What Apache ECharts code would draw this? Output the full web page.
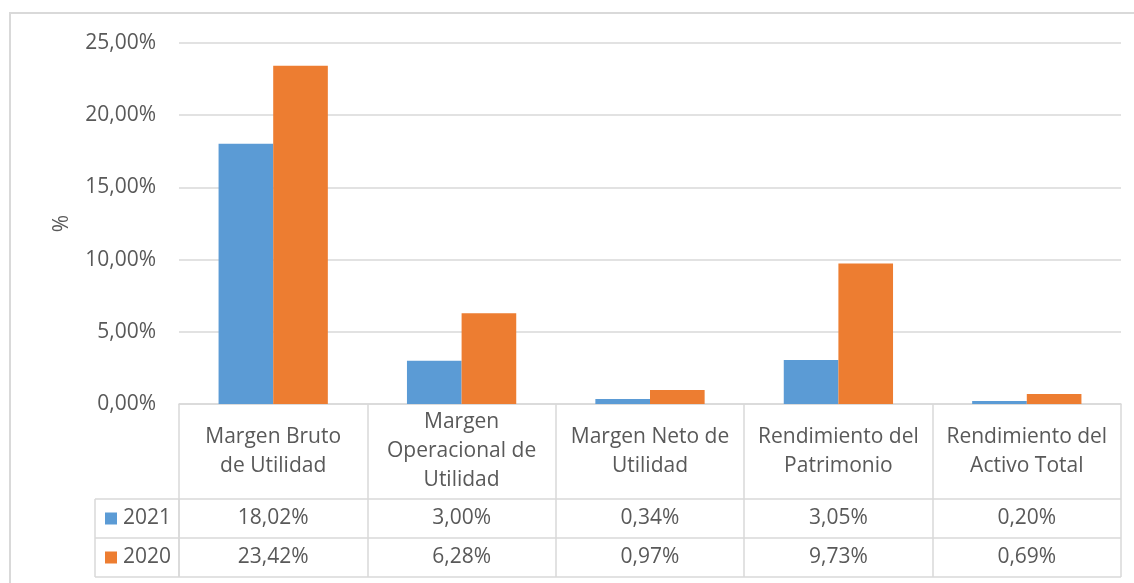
<!DOCTYPE html>
<html>
<head>
<meta charset="utf-8">
<script src="https://cdn.jsdelivr.net/npm/echarts@6/dist/echarts.min.js"></script>
<style>
  html, body { margin: 0; padding: 0; background: #fff; }
  #chart { width: 1134px; height: 583px; }
</style>
</head>
<body>
<div id="chart"></div>
<script>
// datos
const categorias = [
  'Margen Bruto\nde Utilidad',
  'Margen\nOperacional de\nUtilidad',
  'Margen Neto de\nUtilidad',
  'Rendimiento del\nPatrimonio',
  'Rendimiento del\nActivo Total'
];
const serie2021 = [18.02, 3.00, 0.34, 3.05, 0.20];
const serie2020 = [23.42, 6.28, 0.97, 9.73, 0.69];
const nombres = ['2021', '2020'];
const colores = ['#5B9BD5', '#ED7D31'];
const ticksY = [0, 5, 10, 15, 20, 25];

const fmt = v => v.toFixed(2).replace('.', ',') + '%';

const chart = echarts.init(document.getElementById('chart'));

// posicion de la tabla
const gLeft = 179, gRight = 1121, gTop = 43, gBottom = 404;
const tablaLeft = 95;
const filaH = 499, fila1 = 538, fila2 = 577;
const lineColor = '#d9d9d9';
const txtColor = '#595959';
const font = '"Open Sans", sans-serif';
const fs = 21;

const labelBase = {
  color: txtColor,
  fontFamily: font,
  fontSize: fs,
  interval: 0,
  verticalAlign: 'middle',
  align: 'center'
};

const graphic = [
  // marco exterior
  { type: 'rect', shape: { x: 10, y: 13, width: 1140, height: 600 },
    style: { fill: 'none', stroke: lineColor, lineWidth: 2 }, silent: true },
  // lineas horizontales de la tabla
  ...[filaH, fila1, fila2].map(y => ({
    type: 'line', shape: { x1: tablaLeft, y1: y, x2: gRight, y2: y },
    style: { stroke: lineColor, lineWidth: 1.5 }, silent: true
  })),
  { type: 'line', shape: { x1: tablaLeft, y1: filaH, x2: tablaLeft, y2: fila2 },
    style: { stroke: lineColor, lineWidth: 1.5 }, silent: true },
  { type: 'line', shape: { x1: gLeft, y1: filaH, x2: gLeft, y2: fila2 },
    style: { stroke: lineColor, lineWidth: 1.5 }, silent: true }
];
// leyenda en la tabla
nombres.forEach((n, i) => {
  const top = i === 0 ? filaH : fila1;
  const bot = i === 0 ? fila1 : fila2;
  const cy = (top + bot) / 2;
  graphic.push({ type: 'rect', shape: { x: 105, y: cy - 6, width: 12, height: 12 },
    style: { fill: colores[i] }, silent: true });
  graphic.push({ type: 'text', x: 123, y: cy,
    style: { text: n, fill: txtColor, font: fs + 'px ' + font, verticalAlign: 'middle', align: 'left' },
    silent: true });
});

const option = {
  animation: false,
  grid: { left: gLeft, right: 1134 - gRight, top: gTop, bottom: 583 - gBottom },
  xAxis: [
    {
      type: 'category',
      data: categorias,
      axisLine: { show: true, lineStyle: { color: lineColor, width: 1.5 } },
      axisTick: { show: true, length: fila2 - gBottom, lineStyle: { color: lineColor, width: 1.5 } },
      axisLabel: { ...labelBase, margin: (filaH - gBottom) / 2, lineHeight: 29 }
    },
    {
      type: 'category',
      data: categorias,
      position: 'bottom',
      axisLine: { show: false },
      axisTick: { show: false },
      axisLabel: { ...labelBase, margin: (filaH + fila1) / 2 - gBottom,
        formatter: (v, i) => fmt(serie2021[i]) }
    },
    {
      type: 'category',
      data: categorias,
      position: 'bottom',
      axisLine: { show: false },
      axisTick: { show: false },
      axisLabel: { ...labelBase, margin: (fila1 + fila2) / 2 - gBottom,
        formatter: (v, i) => fmt(serie2020[i]) }
    }
  ],
  yAxis: {
    type: 'value',
    min: ticksY[0],
    max: ticksY[ticksY.length - 1],
    interval: ticksY[1] - ticksY[0],
    name: '%',
    nameLocation: 'middle',
    nameRotate: 90,
    nameGap: 106,
    nameTextStyle: { color: txtColor, fontFamily: font, fontSize: fs },
    axisLine: { show: false },
    axisTick: { show: false },
    axisLabel: { color: txtColor, fontFamily: font, fontSize: fs, margin: 23, formatter: v => fmt(v) },
    splitLine: { lineStyle: { color: lineColor, width: 1.5 } }
  },
  series: [
    { name: nombres[0], type: 'bar', data: serie2021, itemStyle: { color: colores[0] },
      barGap: '0%', barCategoryGap: '42%' },
    { name: nombres[1], type: 'bar', data: serie2020, itemStyle: { color: colores[1] },
      barGap: '0%', barCategoryGap: '42%' }
  ],
  graphic: graphic
};

chart.setOption(option);
</script>
</body>
</html>
